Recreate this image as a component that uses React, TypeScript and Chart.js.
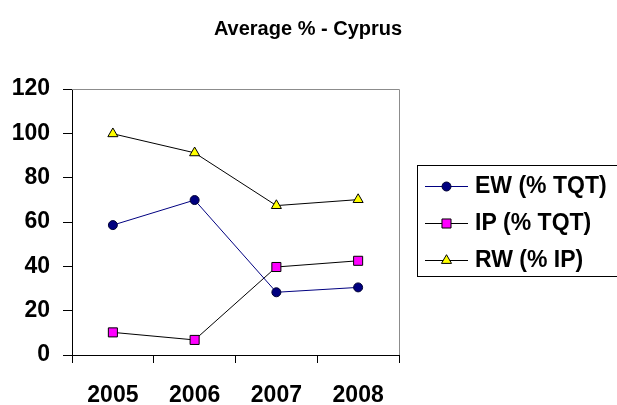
import React, { useEffect, useRef } from "react";
import { Chart, registerables } from "chart.js";
import { drawPoint } from "chart.js/helpers";

Chart.register(...registerables);

const categories = ["2005", "2006", "2007", "2008"];
const ewValues = [58.6, 69.9, 28.3, 30.5];
const ipValues = [10.2, 6.8, 39.7, 42.5];
const rwValues = [99.8, 91.2, 67.4, 70.1];
const seriesLabels = ["EW (% TQT)", "IP (% TQT)", "RW (% IP)"];
const titleText = "Average % - Cyprus";

const FONT = "Arial, 'Liberation Sans', sans-serif";

const decorPlugin = {
  id: "decor",
  afterDraw(chart: any) {
    const ctx = chart.ctx;
    const ca = chart.chartArea;
    ctx.save();
    // plot area border top and right (grey)
    ctx.strokeStyle = "#8c8c8c";
    ctx.lineWidth = 1;
    ctx.beginPath();
    ctx.moveTo(ca.left, ca.top + 0.5);
    ctx.lineTo(ca.right + 0.5, ca.top + 0.5);
    ctx.lineTo(ca.right + 0.5, ca.bottom);
    ctx.stroke();

    // title
    ctx.fillStyle = "#000";
    ctx.font = `bold 20px ${FONT}`;
    ctx.textAlign = "center";
    ctx.textBaseline = "middle";
    ctx.fillText(titleText, 308, 29);

    // legend
    ctx.strokeStyle = "#000";
    ctx.lineWidth = 1;
    ctx.strokeRect(417.5, 165.5, 220, 111);
    const ys = [186, 223, 260];
    chart.data.datasets.forEach((ds: any, i: number) => {
      const y = ys[i];
      ctx.strokeStyle = ds.borderColor;
      ctx.lineWidth = 1;
      ctx.beginPath();
      ctx.moveTo(425, y + 0.5);
      ctx.lineTo(468, y + 0.5);
      ctx.stroke();
      ctx.fillStyle = ds.pointBackgroundColor;
      ctx.strokeStyle = ds.pointBorderColor;
      drawPoint(ctx, { pointStyle: ds.pointStyle, radius: ds.pointRadius, borderWidth: 1, rotation: 0 } as any, 446.5, y + 0.5);
      ctx.fillStyle = "#000";
      ctx.font = `bold 23px ${FONT}`;
      ctx.textAlign = "left";
      ctx.textBaseline = "middle";
      ctx.fillText(ds.label, 475, y + 1);
    });
    ctx.restore();
  },
};

export default function App() {
  const ref = useRef<HTMLCanvasElement>(null);
  useEffect(() => {
    if (!ref.current) return;
    const chart = new Chart(ref.current, {
      type: "line",
      data: {
        labels: categories,
        datasets: [
          {
            label: seriesLabels[0],
            data: ewValues,
            borderColor: "#000080",
            borderWidth: 1,
            pointStyle: "circle",
            pointRadius: 4.5,
            pointBackgroundColor: "#000080",
            pointBorderColor: "#000033",
            pointBorderWidth: 1,
          },
          {
            label: seriesLabels[1],
            data: ipValues,
            borderColor: "#000000",
            borderWidth: 1,
            pointStyle: "rect",
            pointRadius: 6.4,
            pointBackgroundColor: "#ff00ff",
            pointBorderColor: "#000000",
            pointBorderWidth: 1,
          },
          {
            label: seriesLabels[2],
            data: rwValues,
            borderColor: "#000000",
            borderWidth: 1,
            pointStyle: "triangle",
            pointRadius: 5.8,
            pointBackgroundColor: "#ffff00",
            pointBorderColor: "#000000",
            pointBorderWidth: 1,
          },
        ],
      },
      options: {
        responsive: false,
        animation: false,
        layout: { padding: { left: 0, top: 89, right: 218, bottom: 0 } },
        plugins: {
          legend: { display: false },
          title: { display: false },
          tooltip: { enabled: false },
        },
        scales: {
          x: {
            offset: true,
            grid: { offset: true, drawOnChartArea: false, drawTicks: true, tickLength: 8, color: "#000" },
            border: { color: "#000", width: 1 },
            ticks: { color: "#000", font: { family: FONT, size: 23, weight: "bold" }, padding: 19, maxRotation: 0 },
            afterFit: (s: any) => { s.height = 50; },
          },
          y: {
            min: 0,
            max: 120,
            ticks: { stepSize: 20, color: "#000", font: { family: FONT, size: 23, weight: "bold" }, padding: 13 },
            grid: { drawOnChartArea: false, drawTicks: true, tickLength: 9, color: "#000" },
            border: { color: "#000", width: 1 },
            afterFit: (s: any) => { s.width = 72; },
          },
        },
      },
      plugins: [decorPlugin],
    });
    return () => chart.destroy();
  }, []);
  return (
    <div style={{ position: "fixed", left: 0, top: 0, width: 617, height: 405, background: "#fff" }}>
      <canvas ref={ref} width={617} height={405} />
    </div>
  );
}
